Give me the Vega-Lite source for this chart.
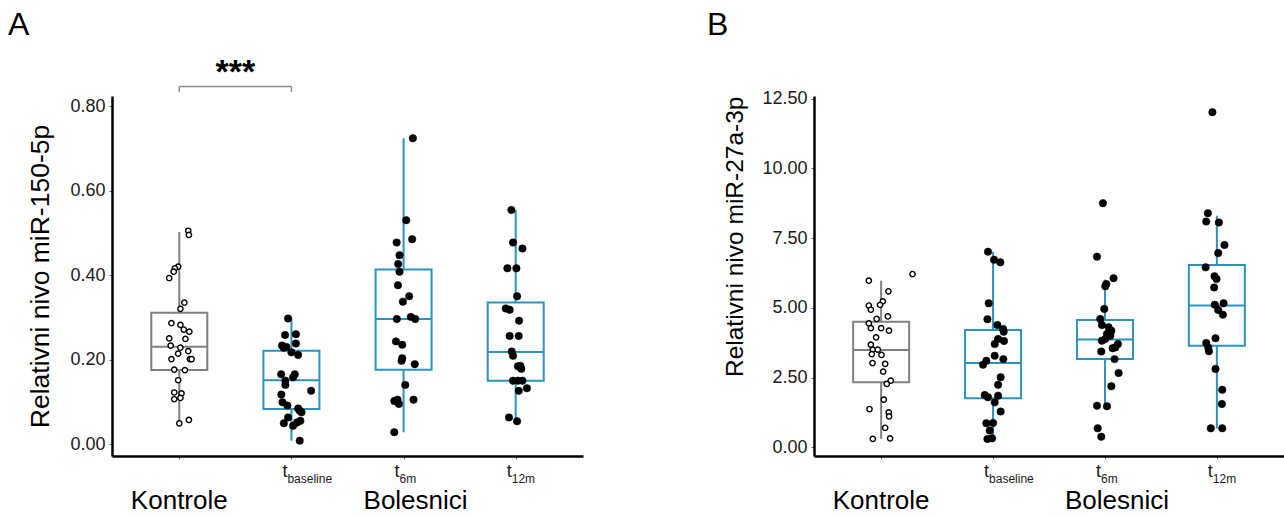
{
 "$schema": "https://vega.github.io/schema/vega-lite/v6.json",
 "padding": {"left": 8, "top": 8, "right": 0, "bottom": 0},
 "config": {"font": "Liberation Sans", "view": {"stroke": null}},
 "bounds": "flush",
 "spacing": 231,
 "resolve": {"scale": {"x": "independent", "y": "independent"}},
 "datasets": {
  "boxA": [
   {"group": "Kontrole", "lower": 0.049, "q1": 0.175, "median": 0.23, "q3": 0.311, "upper": 0.502},
   {"group": "t_baseline", "lower": 0.008, "q1": 0.083, "median": 0.151, "q3": 0.221, "upper": 0.296},
   {"group": "t_6m", "lower": 0.028, "q1": 0.176, "median": 0.296, "q3": 0.413, "upper": 0.724},
   {"group": "t_12m", "lower": 0.054, "q1": 0.15, "median": 0.218, "q3": 0.335, "upper": 0.554}
  ],
  "boxB": [
   {"group": "Kontrole", "lower": 0.30, "q1": 2.33, "median": 3.49, "q3": 4.50, "upper": 5.97},
   {"group": "t_baseline", "lower": 0.30, "q1": 1.76, "median": 3.02, "q3": 4.20, "upper": 7.0},
   {"group": "t_6m", "lower": 1.49, "q1": 3.16, "median": 3.86, "q3": 4.56, "upper": 6.01},
   {"group": "t_12m", "lower": 0.68, "q1": 3.64, "median": 5.08, "q3": 6.53, "upper": 8.30}
  ],
  "labs": [
   {"group": "t_baseline", "t": "t", "sub": "baseline"},
   {"group": "t_6m", "t": "t", "sub": "6m"},
   {"group": "t_12m", "t": "t", "sub": "12m"}
  ],
  "ptsA": [
   {"group": "Kontrole", "value": 0.505, "jitter": 0.08},
   {"group": "Kontrole", "value": 0.495, "jitter": 0.086},
   {"group": "Kontrole", "value": 0.42, "jitter": -0.01},
   {"group": "Kontrole", "value": 0.416, "jitter": -0.04},
   {"group": "Kontrole", "value": 0.408, "jitter": -0.05},
   {"group": "Kontrole", "value": 0.393, "jitter": -0.09},
   {"group": "Kontrole", "value": 0.335, "jitter": 0.045},
   {"group": "Kontrole", "value": 0.32, "jitter": 0.01},
   {"group": "Kontrole", "value": 0.286, "jitter": -0.07},
   {"group": "Kontrole", "value": 0.282, "jitter": 0.01},
   {"group": "Kontrole", "value": 0.271, "jitter": 0.04},
   {"group": "Kontrole", "value": 0.266, "jitter": 0.09},
   {"group": "Kontrole", "value": 0.25, "jitter": -0.09},
   {"group": "Kontrole", "value": 0.249, "jitter": 0.055},
   {"group": "Kontrole", "value": 0.233, "jitter": -0.077},
   {"group": "Kontrole", "value": 0.228, "jitter": 0.01},
   {"group": "Kontrole", "value": 0.214, "jitter": -0.01},
   {"group": "Kontrole", "value": 0.22, "jitter": 0.08},
   {"group": "Kontrole", "value": 0.201, "jitter": -0.07},
   {"group": "Kontrole", "value": 0.201, "jitter": 0.095},
   {"group": "Kontrole", "value": 0.201, "jitter": 0.11},
   {"group": "Kontrole", "value": 0.176, "jitter": -0.045},
   {"group": "Kontrole", "value": 0.175, "jitter": 0.05},
   {"group": "Kontrole", "value": 0.151, "jitter": -0.01},
   {"group": "Kontrole", "value": 0.122, "jitter": -0.045},
   {"group": "Kontrole", "value": 0.12, "jitter": 0.02},
   {"group": "Kontrole", "value": 0.106, "jitter": -0.045},
   {"group": "Kontrole", "value": 0.109, "jitter": 0.01},
   {"group": "Kontrole", "value": 0.049, "jitter": 0.0},
   {"group": "Kontrole", "value": 0.057, "jitter": 0.086},
   {"group": "t_baseline", "value": 0.297, "jitter": -0.03},
   {"group": "t_baseline", "value": 0.258, "jitter": -0.057},
   {"group": "t_baseline", "value": 0.26, "jitter": 0.04},
   {"group": "t_baseline", "value": 0.238, "jitter": 0.04},
   {"group": "t_baseline", "value": 0.233, "jitter": -0.083},
   {"group": "t_baseline", "value": 0.228, "jitter": -0.068},
   {"group": "t_baseline", "value": 0.23, "jitter": -0.045},
   {"group": "t_baseline", "value": 0.217, "jitter": 0.0},
   {"group": "t_baseline", "value": 0.211, "jitter": 0.06},
   {"group": "t_baseline", "value": 0.165, "jitter": -0.092},
   {"group": "t_baseline", "value": 0.165, "jitter": 0.03},
   {"group": "t_baseline", "value": 0.158, "jitter": 0.015},
   {"group": "t_baseline", "value": 0.15, "jitter": -0.054},
   {"group": "t_baseline", "value": 0.14, "jitter": -0.054},
   {"group": "t_baseline", "value": 0.126, "jitter": 0.176},
   {"group": "t_baseline", "value": 0.117, "jitter": -0.09},
   {"group": "t_baseline", "value": 0.099, "jitter": -0.08},
   {"group": "t_baseline", "value": 0.091, "jitter": -0.036},
   {"group": "t_baseline", "value": 0.084, "jitter": 0.06},
   {"group": "t_baseline", "value": 0.079, "jitter": 0.074},
   {"group": "t_baseline", "value": 0.075, "jitter": 0.09},
   {"group": "t_baseline", "value": 0.063, "jitter": -0.03},
   {"group": "t_baseline", "value": 0.049, "jitter": -0.068},
   {"group": "t_baseline", "value": 0.043, "jitter": 0.015},
   {"group": "t_baseline", "value": 0.051, "jitter": 0.05},
   {"group": "t_baseline", "value": 0.055, "jitter": 0.08},
   {"group": "t_baseline", "value": 0.008, "jitter": 0.074},
   {"group": "t_6m", "value": 0.724, "jitter": 0.083},
   {"group": "t_6m", "value": 0.53, "jitter": 0.024},
   {"group": "t_6m", "value": 0.485, "jitter": 0.077},
   {"group": "t_6m", "value": 0.477, "jitter": -0.062},
   {"group": "t_6m", "value": 0.447, "jitter": -0.036},
   {"group": "t_6m", "value": 0.426, "jitter": -0.048},
   {"group": "t_6m", "value": 0.408, "jitter": -0.036},
   {"group": "t_6m", "value": 0.376, "jitter": -0.05},
   {"group": "t_6m", "value": 0.35, "jitter": 0.05},
   {"group": "t_6m", "value": 0.337, "jitter": -0.006},
   {"group": "t_6m", "value": 0.296, "jitter": -0.06},
   {"group": "t_6m", "value": 0.301, "jitter": 0.065},
   {"group": "t_6m", "value": 0.296, "jitter": 0.104},
   {"group": "t_6m", "value": 0.243, "jitter": -0.068},
   {"group": "t_6m", "value": 0.235, "jitter": -0.012},
   {"group": "t_6m", "value": 0.197, "jitter": -0.018},
   {"group": "t_6m", "value": 0.203, "jitter": -0.012},
   {"group": "t_6m", "value": 0.189, "jitter": 0.1},
   {"group": "t_6m", "value": 0.14, "jitter": 0.015},
   {"group": "t_6m", "value": 0.102, "jitter": -0.083},
   {"group": "t_6m", "value": 0.105, "jitter": -0.054},
   {"group": "t_6m", "value": 0.095, "jitter": -0.042},
   {"group": "t_6m", "value": 0.105, "jitter": 0.089},
   {"group": "t_6m", "value": 0.028, "jitter": -0.083},
   {"group": "t_12m", "value": 0.554, "jitter": -0.039},
   {"group": "t_12m", "value": 0.477, "jitter": -0.024},
   {"group": "t_12m", "value": 0.463, "jitter": 0.06},
   {"group": "t_12m", "value": 0.416, "jitter": -0.074},
   {"group": "t_12m", "value": 0.416, "jitter": 0.006},
   {"group": "t_12m", "value": 0.35, "jitter": 0.012},
   {"group": "t_12m", "value": 0.321, "jitter": -0.089},
   {"group": "t_12m", "value": 0.318, "jitter": -0.054},
   {"group": "t_12m", "value": 0.292, "jitter": 0.03},
   {"group": "t_12m", "value": 0.256, "jitter": -0.054},
   {"group": "t_12m", "value": 0.256, "jitter": 0.027},
   {"group": "t_12m", "value": 0.219, "jitter": -0.036},
   {"group": "t_12m", "value": 0.209, "jitter": -0.024},
   {"group": "t_12m", "value": 0.184, "jitter": 0.02},
   {"group": "t_12m", "value": 0.185, "jitter": 0.042},
   {"group": "t_12m", "value": 0.178, "jitter": 0.05},
   {"group": "t_12m", "value": 0.15, "jitter": -0.024},
   {"group": "t_12m", "value": 0.15, "jitter": 0.02},
   {"group": "t_12m", "value": 0.15, "jitter": 0.06},
   {"group": "t_12m", "value": 0.132, "jitter": 0.1},
   {"group": "t_12m", "value": 0.126, "jitter": 0.027},
   {"group": "t_12m", "value": 0.063, "jitter": -0.06},
   {"group": "t_12m", "value": 0.054, "jitter": 0.012}
  ],
  "ptsB": [
   {"group": "Kontrole", "value": 6.21, "jitter": 0.28},
   {"group": "Kontrole", "value": 5.97, "jitter": -0.11},
   {"group": "Kontrole", "value": 5.59, "jitter": 0.065},
   {"group": "Kontrole", "value": 5.23, "jitter": 0.015},
   {"group": "Kontrole", "value": 5.10, "jitter": -0.01},
   {"group": "Kontrole", "value": 5.08, "jitter": -0.11},
   {"group": "Kontrole", "value": 4.93, "jitter": -0.092},
   {"group": "Kontrole", "value": 4.69, "jitter": 0.06},
   {"group": "Kontrole", "value": 4.60, "jitter": -0.04},
   {"group": "Kontrole", "value": 4.44, "jitter": -0.11},
   {"group": "Kontrole", "value": 4.27, "jitter": -0.092},
   {"group": "Kontrole", "value": 4.27, "jitter": 0.0},
   {"group": "Kontrole", "value": 4.18, "jitter": 0.07},
   {"group": "Kontrole", "value": 3.94, "jitter": -0.045},
   {"group": "Kontrole", "value": 3.68, "jitter": -0.092},
   {"group": "Kontrole", "value": 3.50, "jitter": -0.074},
   {"group": "Kontrole", "value": 3.50, "jitter": -0.03},
   {"group": "Kontrole", "value": 3.34, "jitter": -0.083},
   {"group": "Kontrole", "value": 3.31, "jitter": 0.003},
   {"group": "Kontrole", "value": 3.02, "jitter": -0.077},
   {"group": "Kontrole", "value": 2.99, "jitter": 0.036},
   {"group": "Kontrole", "value": 2.71, "jitter": 0.018},
   {"group": "Kontrole", "value": 2.39, "jitter": 0.086},
   {"group": "Kontrole", "value": 2.27, "jitter": 0.05},
   {"group": "Kontrole", "value": 1.71, "jitter": 0.024},
   {"group": "Kontrole", "value": 1.37, "jitter": -0.104},
   {"group": "Kontrole", "value": 1.25, "jitter": 0.068},
   {"group": "Kontrole", "value": 1.11, "jitter": 0.071},
   {"group": "Kontrole", "value": 0.70, "jitter": 0.036},
   {"group": "Kontrole", "value": 0.30, "jitter": -0.074},
   {"group": "Kontrole", "value": 0.32, "jitter": 0.08},
   {"group": "t_baseline", "value": 7.01, "jitter": -0.045},
   {"group": "t_baseline", "value": 6.72, "jitter": 0.009},
   {"group": "t_baseline", "value": 6.63, "jitter": 0.065},
   {"group": "t_baseline", "value": 5.16, "jitter": -0.039},
   {"group": "t_baseline", "value": 4.59, "jitter": -0.05},
   {"group": "t_baseline", "value": 4.38, "jitter": 0.039},
   {"group": "t_baseline", "value": 4.24, "jitter": 0.09},
   {"group": "t_baseline", "value": 4.14, "jitter": 0.095},
   {"group": "t_baseline", "value": 3.88, "jitter": 0.045},
   {"group": "t_baseline", "value": 3.70, "jitter": 0.015},
   {"group": "t_baseline", "value": 3.81, "jitter": 0.098},
   {"group": "t_baseline", "value": 3.28, "jitter": 0.015},
   {"group": "t_baseline", "value": 3.16, "jitter": 0.092},
   {"group": "t_baseline", "value": 3.10, "jitter": -0.06},
   {"group": "t_baseline", "value": 2.96, "jitter": -0.089},
   {"group": "t_baseline", "value": 2.51, "jitter": 0.068},
   {"group": "t_baseline", "value": 2.24, "jitter": 0.045},
   {"group": "t_baseline", "value": 1.87, "jitter": -0.074},
   {"group": "t_baseline", "value": 1.79, "jitter": -0.045},
   {"group": "t_baseline", "value": 1.85, "jitter": 0.045},
   {"group": "t_baseline", "value": 1.61, "jitter": 0.015},
   {"group": "t_baseline", "value": 1.28, "jitter": 0.068},
   {"group": "t_baseline", "value": 0.86, "jitter": -0.06},
   {"group": "t_baseline", "value": 0.87, "jitter": 0.0},
   {"group": "t_baseline", "value": 0.60, "jitter": -0.03},
   {"group": "t_baseline", "value": 0.30, "jitter": -0.05},
   {"group": "t_baseline", "value": 0.32, "jitter": -0.009},
   {"group": "t_6m", "value": 8.75, "jitter": -0.018},
   {"group": "t_6m", "value": 6.83, "jitter": -0.071},
   {"group": "t_6m", "value": 6.06, "jitter": 0.077},
   {"group": "t_6m", "value": 5.85, "jitter": 0.012},
   {"group": "t_6m", "value": 5.77, "jitter": 0.003},
   {"group": "t_6m", "value": 4.96, "jitter": -0.006},
   {"group": "t_6m", "value": 4.60, "jitter": -0.042},
   {"group": "t_6m", "value": 4.38, "jitter": -0.027},
   {"group": "t_6m", "value": 4.30, "jitter": 0.033},
   {"group": "t_6m", "value": 4.18, "jitter": 0.057},
   {"group": "t_6m", "value": 4.06, "jitter": 0.018},
   {"group": "t_6m", "value": 4.00, "jitter": 0.048},
   {"group": "t_6m", "value": 3.82, "jitter": -0.027},
   {"group": "t_6m", "value": 3.88, "jitter": 0.003},
   {"group": "t_6m", "value": 3.70, "jitter": 0.116},
   {"group": "t_6m", "value": 3.58, "jitter": 0.092},
   {"group": "t_6m", "value": 3.55, "jitter": 0.068},
   {"group": "t_6m", "value": 3.43, "jitter": -0.033},
   {"group": "t_6m", "value": 3.16, "jitter": 0.086},
   {"group": "t_6m", "value": 2.66, "jitter": 0.122},
   {"group": "t_6m", "value": 2.19, "jitter": 0.057},
   {"group": "t_6m", "value": 1.49, "jitter": -0.071},
   {"group": "t_6m", "value": 1.47, "jitter": 0.018},
   {"group": "t_6m", "value": 0.68, "jitter": -0.065},
   {"group": "t_6m", "value": 0.38, "jitter": -0.033},
   {"group": "t_12m", "value": 12.01, "jitter": -0.04},
   {"group": "t_12m", "value": 8.39, "jitter": -0.08},
   {"group": "t_12m", "value": 8.09, "jitter": -0.095},
   {"group": "t_12m", "value": 8.06, "jitter": 0.018},
   {"group": "t_12m", "value": 7.25, "jitter": 0.068},
   {"group": "t_12m", "value": 6.96, "jitter": 0.012},
   {"group": "t_12m", "value": 6.45, "jitter": -0.1},
   {"group": "t_12m", "value": 6.13, "jitter": -0.021},
   {"group": "t_12m", "value": 6.03, "jitter": -0.003},
   {"group": "t_12m", "value": 5.73, "jitter": -0.024},
   {"group": "t_12m", "value": 5.11, "jitter": -0.018},
   {"group": "t_12m", "value": 5.16, "jitter": 0.06},
   {"group": "t_12m", "value": 4.92, "jitter": 0.012},
   {"group": "t_12m", "value": 4.75, "jitter": 0.054},
   {"group": "t_12m", "value": 3.91, "jitter": -0.012},
   {"group": "t_12m", "value": 3.74, "jitter": -0.095},
   {"group": "t_12m", "value": 3.58, "jitter": -0.077},
   {"group": "t_12m", "value": 3.44, "jitter": -0.071},
   {"group": "t_12m", "value": 2.81, "jitter": -0.012},
   {"group": "t_12m", "value": 2.06, "jitter": 0.048},
   {"group": "t_12m", "value": 1.55, "jitter": 0.045},
   {"group": "t_12m", "value": 0.68, "jitter": -0.054},
   {"group": "t_12m", "value": 0.68, "jitter": 0.048}
  ]
 },
 "hconcat": [
  {
   "width": 471, "height": 360,
   "title": {"text": "A", "anchor": "start", "frame": "group", "dx": -104, "offset": 14, "fontSize": 32, "fontWeight": "normal", "font": "Liberation Sans", "color": "black"},
   "layer": [
    {"data": {"name": "boxA"}, "mark": {"type": "rule", "strokeWidth": 2},
     "encoding": {
      "x": {"field": "group", "type": "nominal", "scale": {"type": "point", "domain": ["Kontrole", "t_baseline", "t_6m", "t_12m"], "padding": 0.6},
            "axis": {"title": null, "labels": false, "ticks": true, "tickSize": 3, "tickColor": "#666", "domainColor": "black", "domainWidth": 2.5, "grid": false}},
      "y": {"field": "lower", "type": "quantitative", "scale": {"domain": [-0.0284, 0.824], "nice": false, "zero": false},
            "axis": {"title": "Relativni nivo miR-150-5p", "values": [0, 0.2, 0.4, 0.6, 0.8], "format": ".2f", "grid": false, "domainColor": "black", "domainWidth": 2.5, "tickColor": "#666", "tickSize": 3, "labelFontSize": 18, "labelColor": "#1a1a1a", "labelPadding": 4, "titleFontSize": 26.5, "titleFontWeight": "normal", "titleColor": "black", "titlePadding": 15}},
      "y2": {"field": "upper"},
      "stroke": {"field": "group", "type": "nominal", "scale": {"domain": ["Kontrole", "t_baseline", "t_6m", "t_12m"], "range": ["#808080", "#2a93bf", "#2a93bf", "#2a93bf"]}, "legend": null}
     }},
    {"data": {"name": "boxA"}, "mark": {"type": "bar", "width": 56, "fill": "white", "strokeWidth": 2},
     "encoding": {
      "x": {"field": "group", "type": "nominal"},
      "y": {"field": "q1", "type": "quantitative"},
      "y2": {"field": "q3"},
      "stroke": {"field": "group", "type": "nominal", "legend": null}
     }},
    {"data": {"name": "boxA"}, "mark": {"type": "tick", "size": 56, "thickness": 2, "opacity": 1},
     "encoding": {
      "x": {"field": "group", "type": "nominal"},
      "y": {"field": "median", "type": "quantitative"},
      "color": {"field": "group", "type": "nominal", "scale": {"domain": ["Kontrole", "t_baseline", "t_6m", "t_12m"], "range": ["#808080", "#2a93bf", "#2a93bf", "#2a93bf"]}, "legend": null}
     }},
    {"data": {"name": "ptsA"}, "mark": {"type": "circle", "opacity": 1, "stroke": "black"},
     "encoding": {
      "x": {"field": "group", "type": "nominal"},
      "xOffset": {"field": "jitter", "type": "quantitative", "scale": {"domain": [-0.5, 0.5], "range": [-56, 56]}},
      "y": {"field": "value", "type": "quantitative"},
      "fill": {"condition": {"test": "datum.group === 'Kontrole'", "value": "white"}, "value": "black"},
      "size": {"condition": {"test": "datum.group === 'Kontrole'", "value": 28}, "value": 56},
      "strokeWidth": {"condition": {"test": "datum.group === 'Kontrole'", "value": 1.4}, "value": 0.5}
     }},
    {"data": {"values": [{"a": "Kontrole", "b": "t_baseline"}]}, "mark": {"type": "rule", "color": "#8c8c8c", "strokeWidth": 1.5},
     "encoding": {"x": {"field": "a", "type": "nominal"}, "x2": {"field": "b"}, "y": {"datum": 0.8466, "type": "quantitative"}}},
    {"data": {"values": [{"group": "Kontrole"}, {"group": "t_baseline"}]}, "mark": {"type": "rule", "color": "#8c8c8c", "strokeWidth": 1.5},
     "encoding": {"x": {"field": "group", "type": "nominal"}, "y": {"datum": 0.8466, "type": "quantitative"}, "y2": {"datum": 0.8339}}},
    {"data": {"values": [{"group": "Kontrole", "label": "***"}]}, "mark": {"type": "text", "fontSize": 34, "fontWeight": "bold", "align": "center", "baseline": "alphabetic", "dx": 56, "color": "black"},
     "encoding": {"x": {"field": "group", "type": "nominal"}, "y": {"datum": 0.854, "type": "quantitative"}, "text": {"field": "label"}}},
    {"data": {"name": "labs"}, "mark": {"type": "text", "fontSize": 18, "align": "right", "baseline": "alphabetic", "dx": -4, "color": "#1a1a1a"},
     "encoding": {"x": {"field": "group", "type": "nominal"}, "y": {"datum": -0.078, "type": "quantitative"}, "text": {"field": "t"}}},
    {"data": {"name": "labs"}, "mark": {"type": "text", "fontSize": 12, "align": "left", "baseline": "alphabetic", "dx": -4, "color": "#1a1a1a"},
     "encoding": {"x": {"field": "group", "type": "nominal"}, "y": {"datum": -0.0923, "type": "quantitative"}, "text": {"field": "sub"}}},
    {"data": {"values": [{"group": "Kontrole", "label": "Kontrole"}]}, "mark": {"type": "text", "fontSize": 26, "align": "center", "baseline": "alphabetic", "color": "black"},
     "encoding": {"x": {"field": "group", "type": "nominal"}, "y": {"datum": -0.1538, "type": "quantitative"}, "text": {"field": "label"}}},
    {"data": {"values": [{"group": "t_6m", "label": "Bolesnici"}]}, "mark": {"type": "text", "fontSize": 26, "align": "center", "baseline": "alphabetic", "dx": 12, "color": "black"},
     "encoding": {"x": {"field": "group", "type": "nominal"}, "y": {"datum": -0.1538, "type": "quantitative"}, "text": {"field": "label"}}}
   ]
  },
  {
   "width": 470, "height": 360,
   "title": {"text": "B", "anchor": "start", "frame": "group", "dx": -107, "offset": 48, "fontSize": 32, "fontWeight": "normal", "font": "Liberation Sans", "color": "black"},
   "layer": [
    {"data": {"name": "boxB"}, "mark": {"type": "rule", "strokeWidth": 2},
     "encoding": {
      "x": {"field": "group", "type": "nominal", "scale": {"type": "point", "domain": ["Kontrole", "t_baseline", "t_6m", "t_12m"], "padding": 0.6},
            "axis": {"title": null, "labels": false, "ticks": true, "tickSize": 3, "tickColor": "#666", "domainColor": "black", "domainWidth": 2.5, "grid": false}},
      "y": {"field": "lower", "type": "quantitative", "scale": {"domain": [-0.312, 12.59], "nice": false, "zero": false},
            "axis": {"title": "Relativni nivo miR-27a-3p", "values": [0, 2.5, 5, 7.5, 10, 12.5], "format": ".2f", "grid": false, "domainColor": "black", "domainWidth": 2.5, "tickColor": "#666", "tickSize": 3, "labelFontSize": 18, "labelColor": "#1a1a1a", "labelPadding": 4, "titleFontSize": 24.5, "titleFontWeight": "normal", "titleColor": "black", "titlePadding": 14, "titleAnchor": "end"}},
      "y2": {"field": "upper"},
      "stroke": {"field": "group", "type": "nominal", "scale": {"domain": ["Kontrole", "t_baseline", "t_6m", "t_12m"], "range": ["#808080", "#2a93bf", "#2a93bf", "#2a93bf"]}, "legend": null}
     }},
    {"data": {"name": "boxB"}, "mark": {"type": "bar", "width": 56, "fill": "white", "strokeWidth": 2},
     "encoding": {
      "x": {"field": "group", "type": "nominal"},
      "y": {"field": "q1", "type": "quantitative"},
      "y2": {"field": "q3"},
      "stroke": {"field": "group", "type": "nominal", "legend": null}
     }},
    {"data": {"name": "boxB"}, "mark": {"type": "tick", "size": 56, "thickness": 2, "opacity": 1},
     "encoding": {
      "x": {"field": "group", "type": "nominal"},
      "y": {"field": "median", "type": "quantitative"},
      "color": {"field": "group", "type": "nominal", "scale": {"domain": ["Kontrole", "t_baseline", "t_6m", "t_12m"], "range": ["#808080", "#2a93bf", "#2a93bf", "#2a93bf"]}, "legend": null}
     }},
    {"data": {"name": "ptsB"}, "mark": {"type": "circle", "opacity": 1, "stroke": "black"},
     "encoding": {
      "x": {"field": "group", "type": "nominal"},
      "xOffset": {"field": "jitter", "type": "quantitative", "scale": {"domain": [-0.5, 0.5], "range": [-56, 56]}},
      "y": {"field": "value", "type": "quantitative"},
      "fill": {"condition": {"test": "datum.group === 'Kontrole'", "value": "white"}, "value": "black"},
      "size": {"condition": {"test": "datum.group === 'Kontrole'", "value": 28}, "value": 56},
      "strokeWidth": {"condition": {"test": "datum.group === 'Kontrole'", "value": 1.4}, "value": 0.5}
     }},
    {"data": {"name": "labs"}, "mark": {"type": "text", "fontSize": 18, "align": "right", "baseline": "alphabetic", "dx": -4, "color": "#1a1a1a"},
     "encoding": {"x": {"field": "group", "type": "nominal"}, "y": {"datum": -1.06, "type": "quantitative"}, "text": {"field": "t"}}},
    {"data": {"name": "labs"}, "mark": {"type": "text", "fontSize": 12, "align": "left", "baseline": "alphabetic", "dx": -4, "color": "#1a1a1a"},
     "encoding": {"x": {"field": "group", "type": "nominal"}, "y": {"datum": -1.28, "type": "quantitative"}, "text": {"field": "sub"}}},
    {"data": {"values": [{"group": "Kontrole", "label": "Kontrole"}]}, "mark": {"type": "text", "fontSize": 26, "align": "center", "baseline": "alphabetic", "color": "black"},
     "encoding": {"x": {"field": "group", "type": "nominal"}, "y": {"datum": -2.211, "type": "quantitative"}, "text": {"field": "label"}}},
    {"data": {"values": [{"group": "t_6m", "label": "Bolesnici"}]}, "mark": {"type": "text", "fontSize": 26, "align": "center", "baseline": "alphabetic", "dx": 12, "color": "black"},
     "encoding": {"x": {"field": "group", "type": "nominal"}, "y": {"datum": -2.211, "type": "quantitative"}, "text": {"field": "label"}}}
   ]
  }
 ]
}
